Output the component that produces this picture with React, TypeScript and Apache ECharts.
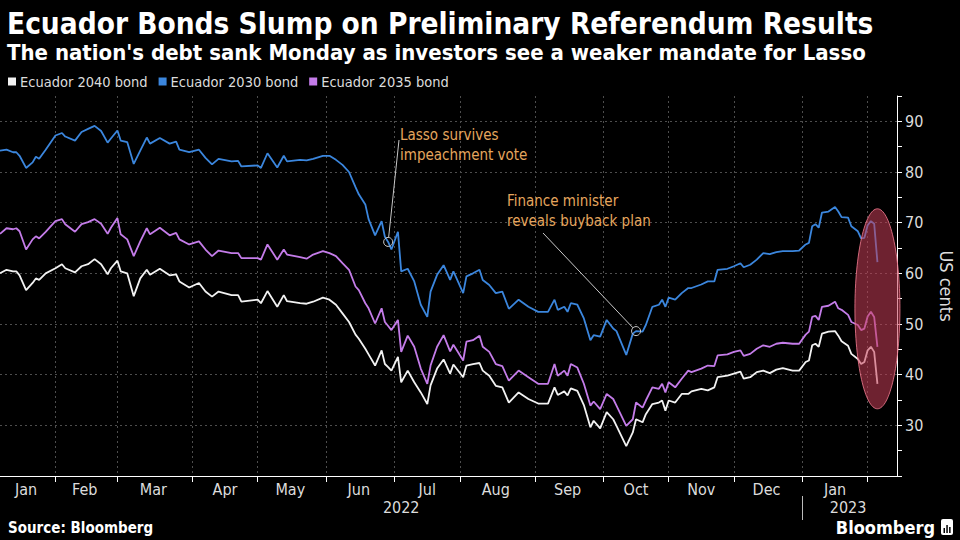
import React, { useEffect, useRef } from 'react';
import * as echarts from 'echarts';

// ---------- calendar (US bond-market sessions) ----------
const FIRST_SESSION = '2022-01-06';
const LAST_SESSION = '2023-02-14';
const MARKET_HOLIDAYS = [
  '2022-01-17', '2022-02-21', '2022-04-15', '2022-05-30', '2022-06-20', '2022-07-04',
  '2022-09-05', '2022-10-10', '2022-11-11', '2022-11-24', '2022-12-26', '2023-01-02', '2023-01-16',
];
const MONTH_NAMES = ['Jan', 'Feb', 'Mar', 'Apr', 'May', 'Jun', 'Jul', 'Aug', 'Sep', 'Oct', 'Nov', 'Dec'];

// ---------- data: session number (0 = 2022-01-06) and prices in US cents ----------
const SESSION = [
  0, 2, 4, 5, 6, 8, 10, 11, 12, 14, 17, 19, 20, 23, 25, 27, 29, 31, 33, 34, 36, 37, 39, 41, 43, 45,
  46, 49, 52, 54, 55, 58, 61, 63, 65, 67, 71, 73, 74, 79, 80, 82, 85, 87, 88, 92,
  94, 96, 99, 101, 103, 105, 107, 109, 110, 112, 113, 115, 117, 118, 119, 120, 122, 123, 125, 127, 129, 131, 132, 134, 136, 138,
  139, 142, 143, 145, 147, 148, 150, 152, 154, 156, 159, 162, 165, 168, 170, 171, 173, 174, 175, 177, 179, 181, 182, 184,
  186, 188, 189, 192, 194, 195, 197, 198, 200, 202, 203, 204, 205, 207, 209, 211, 212, 215, 217, 219, 220, 223, 225, 227, 228, 230,
  232, 234, 236, 238, 240, 243, 245, 247, 248, 249, 250, 251, 252, 254, 256, 257, 258, 260, 261, 263, 264, 265, 266, 267, 268, 269,
];
const BOND_2030 = [
  84.2, 84.4, 83.9, 83.9, 83.2, 80.8, 81.9, 83.0, 82.6, 84.4, 87.2, 87.7, 87.0, 86.2, 87.9, 88.5, 89.1, 88.1, 85.8, 86.6, 88.2, 86.2, 85.9, 81.6, 84.2, 86.8,
  85.6, 86.7, 85.6, 86.0, 84.4, 83.9, 84.4, 82.8, 81.5, 82.6, 82.1, 82.2, 81.1, 81.3, 80.8, 83.7, 80.9, 83.2, 82.1, 82.4,
  82.3, 82.6, 83.2, 83.2, 82.4, 81.4, 80.0, 77.0, 75.6, 73.6, 70.7, 67.5, 70.3, 67.2, 66.2, 64.7, 68.2, 60.4, 60.9, 58.4, 53.8, 51.4, 56.4, 59.7, 61.6, 58.7,
  60.4, 56.1, 59.4, 60.0, 60.7, 58.7, 57.7, 56.1, 56.4, 53.0, 54.8, 53.4, 52.4, 52.4, 54.8, 52.8, 53.4, 52.4, 54.1, 53.8, 51.1, 46.8, 47.8, 47.5,
  50.8, 49.1, 48.6, 43.9, 48.1, 48.6, 48.5, 49.8, 53.4, 53.8, 54.8, 53.4, 55.2, 54.8, 56.1, 57.1, 57.1, 57.8, 58.4, 58.4, 60.7, 60.9, 61.4, 62.0, 61.2, 61.7,
  62.7, 64.0, 63.8, 64.2, 64.4, 64.4, 64.5, 65.7, 66.0, 69.3, 69.7, 69.0, 72.0, 72.2, 73.1, 72.2, 71.1, 71.0, 69.3, 68.3, 66.9, 67.0, 69.5, 70.3, 69.8, 62.2,
];
const BOND_2035 = [
  67.8, 68.9, 68.7, 68.9, 68.3, 64.7, 66.7, 67.3, 66.9, 68.2, 70.3, 70.7, 69.7, 68.2, 69.7, 70.1, 70.7, 69.8, 67.8, 69.0, 70.9, 67.7, 66.7, 63.4, 66.3, 68.9,
  67.7, 69.0, 67.5, 68.0, 66.7, 65.7, 66.3, 64.7, 63.4, 64.5, 64.0, 64.0, 63.0, 63.0, 62.7, 65.7, 62.7, 64.7, 63.7, 63.2,
  62.9, 63.7, 64.4, 64.0, 63.4, 62.0, 60.7, 57.4, 56.7, 54.1, 53.1, 50.1, 53.1, 50.4, 49.6, 48.8, 50.8, 44.5, 47.7, 45.5, 41.2, 38.2, 41.8, 45.5, 47.8, 44.6,
  45.9, 42.8, 46.5, 46.8, 47.7, 45.5, 44.5, 42.1, 41.7, 38.8, 40.8, 39.5, 38.2, 38.2, 42.1, 39.8, 40.8, 39.8, 42.1, 41.4, 38.2, 33.9, 34.7, 33.2,
  36.2, 35.2, 33.9, 29.9, 31.2, 34.5, 33.5, 34.9, 37.5, 37.2, 38.2, 36.5, 38.5, 37.5, 39.2, 40.8, 40.5, 41.2, 41.8, 41.7, 43.8, 44.0, 44.5, 44.8, 43.7, 44.1,
  45.1, 45.8, 45.5, 46.1, 46.3, 46.1, 46.1, 47.9, 48.5, 51.4, 51.6, 50.8, 53.4, 53.6, 54.4, 53.1, 52.8, 51.8, 50.4, 49.8, 48.8, 49.1, 51.5, 52.4, 51.4, 45.5,
];
const BOND_2040 = [
  60.0, 60.7, 60.4, 60.4, 59.6, 56.7, 58.1, 59.0, 58.7, 60.0, 61.0, 61.8, 61.0, 60.2, 61.4, 61.8, 62.8, 61.8, 59.8, 61.0, 62.5, 60.4, 60.0, 55.5, 59.0, 60.7,
  59.7, 60.9, 59.6, 59.8, 58.4, 57.2, 58.1, 56.4, 55.4, 56.4, 55.7, 55.7, 54.4, 54.8, 54.1, 56.5, 53.4, 55.7, 54.5, 54.1,
  54.0, 54.4, 55.2, 54.8, 53.8, 52.1, 50.4, 47.9, 47.1, 45.1, 44.0, 41.8, 44.8, 42.1, 41.5, 40.8, 43.5, 38.5, 40.8, 38.5, 36.5, 34.2, 37.9, 41.2, 43.0, 40.2,
  42.0, 39.5, 41.8, 42.1, 42.3, 40.8, 39.8, 37.8, 37.5, 34.5, 36.5, 35.2, 34.3, 34.3, 37.5, 36.0, 36.7, 35.9, 37.3, 36.8, 34.0, 29.6, 30.9, 29.4,
  32.6, 31.2, 29.9, 25.9, 28.6, 31.2, 30.6, 32.2, 34.2, 34.5, 34.9, 32.9, 34.9, 34.5, 36.2, 36.2, 36.7, 37.2, 36.9, 37.5, 39.5, 39.8, 40.2, 40.6, 39.2, 39.5,
  40.5, 40.8, 40.3, 41.0, 41.3, 40.8, 40.8, 42.5, 42.8, 45.8, 46.1, 45.5, 48.1, 48.5, 48.6, 47.7, 46.6, 45.7, 44.1, 43.1, 42.1, 42.5, 44.8, 45.5, 44.5, 38.2,
];

const SERIES_NAMES = ['Ecuador 2040 bond', 'Ecuador 2030 bond', 'Ecuador 2035 bond'];
const Y_TICKS = [30, 40, 50, 60, 70, 80, 90];

// annotations: [session, value on the 2030 bond]
const LASSO_POINT = [119, 66.2];
const BUYBACK_POINT = [195, 48.6];
const LASSO_TEXT = ['Lasso survives', 'impeachment vote'];
const BUYBACK_TEXT = ['Finance minister', 'reveals buyback plan'];
const REFERENDUM_POINT = [269, 53.0];

const TITLE = 'Ecuador Bonds Slump on Preliminary Referendum Results';
const SUBTITLE = "The nation's debt sank Monday as investors see a weaker mandate for Lasso";

// ---------- styling ----------
const FONT = '"DejaVu Sans Condensed", "DejaVu Sans", Roboto, sans-serif';
const C_WHITE = '#f2f2f2';
const C_BLUE = '#3b86dd';
const C_PURPLE = '#c47ce9';
const C_ORANGE = '#e5a65e';
const C_GRID = '#4d4d4d';
const C_TEXT = '#dcdcdc';

function buildSessions(): string[] {
  const out: string[] = [];
  const d = new Date(FIRST_SESSION + 'T00:00:00Z');
  const end = new Date(LAST_SESSION + 'T00:00:00Z');
  while (d.getTime() <= end.getTime()) {
    const wd = d.getUTCDay();
    const s = d.toISOString().slice(0, 10);
    if (wd !== 0 && wd !== 6 && MARKET_HOLIDAYS.indexOf(s) < 0) out.push(s);
    d.setUTCDate(d.getUTCDate() + 1);
  }
  return out;
}

export default function App() {
  const ref = useRef<HTMLDivElement>(null);

  useEffect(() => {
    document.body.style.margin = '0';
    document.body.style.background = '#000';
    const sessions = buildSessions();
    const monthStarts: number[] = [];
    for (let i = 1; i < sessions.length; i++) {
      if (sessions[i].slice(0, 7) !== sessions[i - 1].slice(0, 7)) monthStarts.push(i);
    }
    const labelIdx = new Map<number, string>();
    const bounds = [0, ...monthStarts];
    for (let k = 0; k < bounds.length - 1; k++) {
      const mid = Math.floor((bounds[k] + bounds[k + 1]) / 2);
      labelIdx.set(mid, MONTH_NAMES[Number(sessions[bounds[k]].slice(5, 7)) - 1]);
    }
    const yearStarts = [0];
    for (let i = 1; i < sessions.length; i++) {
      if (sessions[i].slice(0, 4) !== sessions[i - 1].slice(0, 4)) yearStarts.push(i);
    }
    const yearLabel = new Map<number, string>();
    const yb = [...yearStarts, sessions.length - 1];
    for (let k = 0; k < yearStarts.length; k++) {
      const mid = Math.floor((yb[k] + yb[k + 1]) / 2);
      yearLabel.set(mid, sessions[yb[k]].slice(0, 4));
    }
    const yearSeps = yearStarts.slice(1);
    const isMonthStart = (i: number) => monthStarts.indexOf(i) >= 0;

    const chart = echarts.init(ref.current!, null, { renderer: 'svg' });
    const mk = (vals: number[]) => SESSION.map((s, i) => [s, vals[i]]);

    chart.setOption({
      animation: false,
      backgroundColor: '#000',
      title: [
        {
          text: TITLE, left: 2, top: 4,
          textStyle: { color: '#fff', fontFamily: FONT, fontWeight: 'bold', fontSize: 29.5, lineHeight: 30 },
        },
        {
          text: SUBTITLE, left: 2, top: 36,
          textStyle: { color: '#fff', fontFamily: FONT, fontWeight: 'bold', fontSize: 22, lineHeight: 22 },
        },
      ],
      legend: {
        data: SERIES_NAMES, left: 8, top: 74, icon: 'rect', itemWidth: 8, itemHeight: 8, itemGap: 11,
        padding: 0, selectedMode: false,
        textStyle: { color: C_TEXT, fontFamily: FONT, fontSize: 14.5, padding: [0, 0, 0, -1] },
      },
      grid: { left: 0, right: 63, top: 96, bottom: 64, containLabel: false, outerBoundsMode: 'none' },
      xAxis: [
        {
          type: 'category', data: sessions, boundaryGap: false,
          axisLine: { show: true, lineStyle: { color: '#fff', width: 1 } },
          axisTick: { show: true, length: 6, interval: (i: number) => isMonthStart(i), lineStyle: { color: '#fff' } },
          axisLabel: {
            interval: (i: number) => labelIdx.has(i), formatter: (_v: string, i: number) => labelIdx.get(i) || '',
            color: C_TEXT, fontFamily: FONT, fontSize: 16, margin: 5,
          },
          splitLine: { show: true, interval: (i: number) => isMonthStart(i), lineStyle: { color: C_GRID, type: [2, 3] } },
        },
        {
          type: 'category', data: sessions, boundaryGap: false, position: 'bottom', offset: 20,
          axisLine: { show: false },
          axisTick: { show: true, length: 24, interval: (i: number) => yearSeps.indexOf(i) >= 0, lineStyle: { color: '#bbb' } },
          axisLabel: {
            interval: (i: number) => yearLabel.has(i), formatter: (_v: string, i: number) => yearLabel.get(i) || '',
            color: C_TEXT, fontFamily: FONT, fontSize: 16, margin: 3,
          },
          splitLine: { show: false },
        },
      ],
      yAxis: {
        type: 'value', position: 'right', min: 20, max: 95, interval: 5,
        axisLine: { show: true, lineStyle: { color: '#fff' } },
        axisTick: { show: true, length: 5, lineStyle: { color: '#fff' } },
        axisLabel: {
          color: C_TEXT, fontFamily: FONT, fontSize: 16, margin: 8,
          formatter: (v: number) => (Y_TICKS.indexOf(v) >= 0 ? String(v) : ''),
        },
        splitLine: { show: true, lineStyle: { color: [C_GRID, 'rgba(0,0,0,0)'], type: [2, 3] } },
        name: 'US cents', nameLocation: 'middle', nameRotate: -90, nameGap: 40,
        nameTextStyle: { color: C_TEXT, fontFamily: FONT, fontSize: 18 },
      },
      series: [
        {
          name: SERIES_NAMES[0], type: 'line', data: mk(BOND_2040), showSymbol: false, silent: true,
          lineStyle: { color: C_WHITE, width: 1.8 }, itemStyle: { color: C_WHITE }, z: 3,
        },
        {
          name: SERIES_NAMES[1], type: 'line', data: mk(BOND_2030), showSymbol: false, silent: true,
          lineStyle: { color: C_BLUE, width: 1.8 }, itemStyle: { color: C_BLUE }, z: 3,
          markPoint: {
            symbol: 'circle', symbolSize: 9, silent: true, label: { show: false },
            itemStyle: { color: 'rgba(0,0,0,0)', borderColor: '#c8c8c8', borderWidth: 1 },
            data: [{ coord: LASSO_POINT }, { coord: BUYBACK_POINT }],
          },
        },
        {
          name: SERIES_NAMES[2], type: 'line', data: mk(BOND_2035), showSymbol: false, silent: true,
          lineStyle: { color: C_PURPLE, width: 1.8 }, itemStyle: { color: C_PURPLE }, z: 3,
        },
      ],
    });

    const px = (p: number[]) => chart.convertToPixel({ seriesIndex: 0 }, p) as number[];
    const edge = (c: number[], to: number[], r: number) => {
      const dx = to[0] - c[0], dy = to[1] - c[1];
      const len = Math.sqrt(dx * dx + dy * dy) || 1;
      return [c[0] + (dx / len) * r, c[1] + (dy / len) * r];
    };
    const lasso = px(LASSO_POINT);
    const buy = px(BUYBACK_POINT);
    const lassoEnd = [399, 140];
    const buyEnd = [543, 233];
    const ls = edge(lasso, lassoEnd, 4.5);
    const bs = edge(buy, buyEnd, 4.5);
    const ell = px(REFERENDUM_POINT);
    const textStyle = (t: string, x: number, y: number) => ({
      type: 'text', z: 50, style: { text: t, x, y, fill: C_ORANGE, font: `15px ${FONT}`, verticalAlign: 'middle' },
    });

    chart.setOption({
      graphic: [
        { type: 'line', z: 50, shape: { x1: ls[0], y1: ls[1], x2: lassoEnd[0], y2: lassoEnd[1] }, style: { stroke: '#c8c8c8', lineWidth: 1 } },
        { type: 'line', z: 50, shape: { x1: bs[0], y1: bs[1], x2: buyEnd[0], y2: buyEnd[1] }, style: { stroke: '#c8c8c8', lineWidth: 1 } },
        textStyle(LASSO_TEXT[0], 400, 135),
        textStyle(LASSO_TEXT[1], 400, 155),
        textStyle(BUYBACK_TEXT[0], 507, 201),
        textStyle(BUYBACK_TEXT[1], 507, 221),
        {
          type: 'ellipse', z: 60, shape: { cx: ell[0], cy: ell[1], rx: 22.5, ry: 100 },
          style: { fill: 'rgba(200,62,88,0.55)', stroke: 'rgba(235,120,140,0.85)', lineWidth: 1 },
        },
        {
          type: 'text', z: 50,
          style: { text: 'Source: Bloomberg', x: 8, y: 528, fill: '#fff', font: `bold 15px ${FONT}`, verticalAlign: 'middle' },
        },
        {
          type: 'text', z: 50,
          style: { text: 'Bloomberg', x: 935, y: 527, fill: '#fff', font: `bold 18px ${FONT}`, verticalAlign: 'middle', align: 'right' },
        },
        { type: 'rect', z: 50, shape: { x: 941, y: 519, width: 12, height: 16, r: 2 }, style: { fill: '#fff' } },
        { type: 'rect', z: 51, shape: { x: 943.5, y: 528, width: 1.5, height: 5 }, style: { fill: '#000' } },
        { type: 'rect', z: 51, shape: { x: 946.3, y: 525, width: 1.5, height: 8 }, style: { fill: '#000' } },
        { type: 'rect', z: 51, shape: { x: 949.1, y: 527, width: 1.5, height: 6 }, style: { fill: '#000' } },
      ],
    });

    return () => chart.dispose();
  }, []);

  return (
    <div
      ref={ref}
      style={{ position: 'absolute', left: 0, top: 0, width: 960, height: 540, background: '#000' }}
    />
  );
}
